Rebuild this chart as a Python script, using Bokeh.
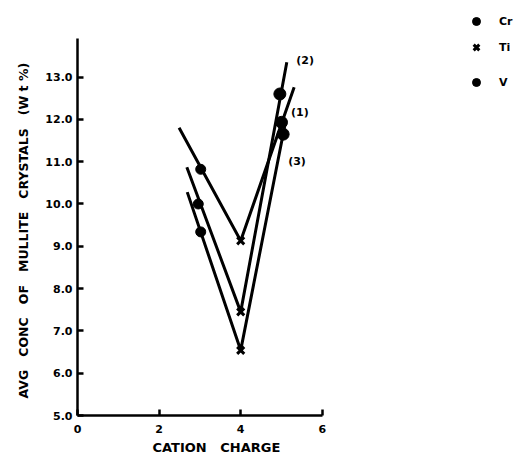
from bokeh.plotting import figure
from bokeh.models import FixedTicker, PrintfTickFormatter, Legend, LegendItem, Range1d, Title
from bokeh.core.properties import value
from bokeh.embed import file_html
from bokeh.resources import INLINE

# ---- data ----
series_labels = ["(1)", "(2)", "(3)"]
line1_x = [2.49, 4.0, 5.31]
line1_y = [11.80, 9.13, 12.76]
line2_x = [2.68, 4.0, 5.13]
line2_y = [10.87, 7.45, 13.35]
line3_x = [2.69, 4.0, 5.08]
line3_y = [10.28, 6.54, 11.85]

cr_x = [3.02, 2.96, 3.02]
cr_y = [10.82, 10.0, 9.34]
ti_x = [4.0, 4.0, 4.0]
ti_y = [9.13, 7.45, 6.54]
v_x = [5.0, 4.96, 5.04]
v_y = [11.93, 12.6, 11.65]

label_x = [5.45, 5.58, 5.38]
label_y = [12.16, 13.39, 11.0]

x_ticks = [0, 2, 4, 6]
y_ticks = [5, 6, 7, 8, 9, 10, 11, 12, 13]

FONT = "DejaVu Sans"
SP = "\u00a0\u00a0\u00a0"

p = figure(width=516, height=463, output_backend="svg", toolbar_location=None,
           x_range=Range1d(0, 10.76), y_range=Range1d(5, 14.81),
           min_border_left=77, min_border_right=0, min_border_top=0, min_border_bottom=48)
p.outline_line_color = None
p.grid.visible = False
p.background_fill_color = "white"

for ax in (p.xaxis[0], p.yaxis[0]):
    ax.axis_line_width = 2.5
    ax.axis_line_color = "black"
    ax.major_tick_line_width = 2.5
    ax.major_tick_in = 6
    ax.major_tick_out = 0
    ax.minor_tick_line_color = None
    ax.major_label_text_font = FONT
    ax.major_label_text_font_style = "bold"
    ax.major_label_text_font_size = "11px"
    ax.major_label_text_color = "black"

p.xaxis.bounds = (0, 6)
p.yaxis.bounds = (5, 13.9)
p.xaxis.ticker = FixedTicker(ticks=x_ticks)
p.yaxis.ticker = FixedTicker(ticks=y_ticks)
p.yaxis.formatter = PrintfTickFormatter(format="%.1f")
p.xaxis.major_label_standoff = 9
p.yaxis.major_label_standoff = 5

x_title = Title(text="CATION" + SP + "CHARGE", align="left", offset=75, standoff=4,
                text_font=FONT, text_font_style="bold", text_font_size="13px",
                text_color="black")
p.add_layout(x_title, "below")
y_title = Title(text=SP.join(["AVG", "CONC", "OF", "MULLITE", "CRYSTALS", "(W t %)"]),
                align="left", offset=17, standoff=24,
                text_font=FONT, text_font_style="bold", text_font_size="12.5px",
                text_color="black")
p.add_layout(y_title, "left")

for lx, ly in ((line1_x, line1_y), (line2_x, line2_y), (line3_x, line3_y)):
    p.line(lx, ly, line_color="black", line_width=3)

r_cr = p.scatter(cr_x, cr_y, marker="circle", size=10, color="black")
r_ti = p.scatter(ti_x, ti_y, marker="x", size=10, line_color="black", line_width=3)
r_v = p.scatter(v_x, v_y, marker="circle", size=12, color="black")

p.text(x=label_x, y=label_y, text=series_labels, text_font=value(FONT),
       text_font_style="bold", text_font_size="11px", text_align="center",
       text_baseline="middle", text_color="black")

for name, rend, ypos in (("Cr", r_cr, 384), ("Ti", r_ti, 358), ("V", r_v, 323)):
    lg = Legend(items=[LegendItem(label=name, renderers=[rend])], location=(389, ypos),
                padding=0, margin=0, border_line_color=None, background_fill_alpha=0,
                label_text_font=FONT, label_text_font_style="bold",
                label_text_font_size="11px", label_text_color="black",
                glyph_width=20, glyph_height=20, label_standoff=13)
    p.add_layout(lg)

open("out.html", "w").write(file_html(p, INLINE))
